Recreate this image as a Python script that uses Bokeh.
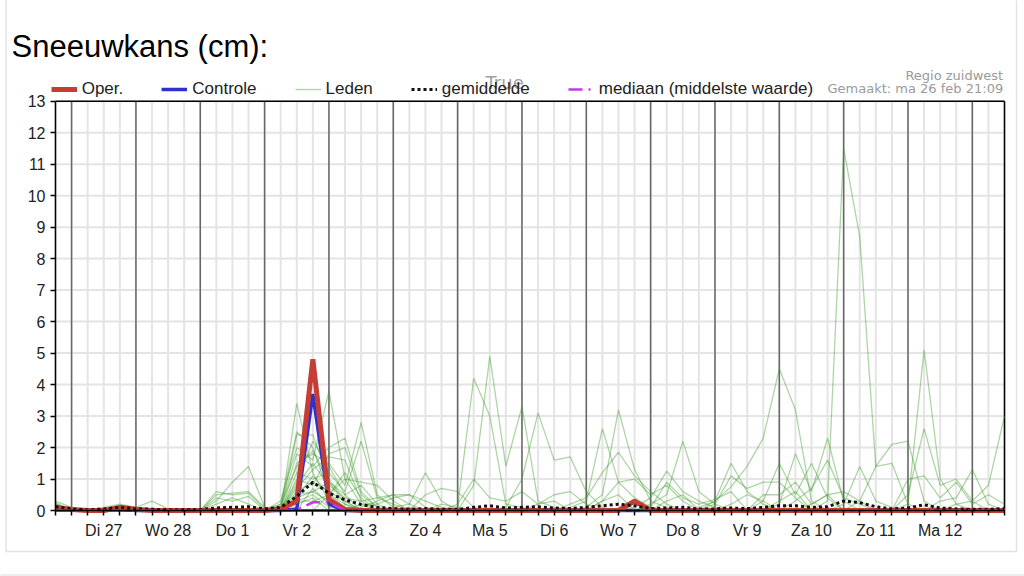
from bokeh.plotting import figure
from bokeh.models import (FixedTicker, Legend, LegendItem, Label,
                          PolyAnnotation, Range1d)
from bokeh.embed import file_html
from bokeh.resources import INLINE

# ---------------- data ----------------
# time axis: hours after Di 27 00:00, 6-hourly steps
HOURS = list(range(-6, 349, 6))
DAY_LABELS = ["Di 27", "Wo 28", "Do 1", "Vr 2", "Za 3", "Zo 4", "Ma 5",
              "Di 6", "Wo 7", "Do 8", "Vr 9", "Za 10", "Zo 11", "Ma 12"]
DAY_NOON_HOURS = [12, 36, 60, 84, 108, 132, 156, 180, 204, 228, 252, 276, 300, 324]
MIDNIGHT_HOURS = [0, 24, 48, 72, 96, 120, 144, 168, 192, 216, 240, 264, 288, 312, 336]
Y_TICKS = [0, 1, 2, 3, 4, 5, 6, 7, 8, 9, 10, 11, 12, 13]

OPER = [0.1, 0.03, 0, 0, 0.1, 0.04, 0, 0, 0, 0,
        0, 0, 0, 0, 0.05, 0.3, 4.8, 0.35, 0.03, 0,
        0, 0, 0, 0, 0, 0, 0, 0, 0, 0,
        0, 0, 0, 0, 0, 0, 0.3, 0, 0, 0,
        0, 0, 0, 0, 0, 0, 0, 0, 0, 0,
        0, 0, 0, 0, 0, 0, 0, 0, 0, 0]

CONTROLE = [0.05, 0.02, 0, 0, 0.05, 0, 0, 0, 0, 0,
            0, 0, 0, 0, 0, 0.05, 3.7, 0.2, 0, 0,
            0, 0, 0, 0, 0, 0, 0, 0, 0, 0,
            0, 0, 0, 0, 0, 0, 0, 0, 0, 0,
            0, 0, 0, 0, 0, 0, 0, 0, 0, 0,
            0, 0, 0, 0, 0, 0, 0, 0, 0, 0]

GEMIDDELDE = [0.12, 0.05, 0.02, 0.05, 0.1, 0.05, 0.04, 0.02, 0.02, 0.03,
              0.08, 0.1, 0.12, 0.05, 0.1, 0.45, 0.9, 0.55, 0.34, 0.19,
              0.1, 0.06, 0.04, 0.06, 0.04, 0.03, 0.1, 0.15, 0.08, 0.1,
              0.12, 0.08, 0.06, 0.1, 0.15, 0.2, 0.15, 0.06, 0.08, 0.1,
              0.05, 0.05, 0.08, 0.06, 0.1, 0.15, 0.15, 0.1, 0.12, 0.3,
              0.25, 0.12, 0.05, 0.08, 0.18, 0.08, 0.05, 0.04, 0.04, 0.06]

MEDIAAN = [0, 0, 0, 0, 0, 0, 0, 0, 0, 0,
           0, 0, 0, 0, 0, 0.02, 0.26, 0.26, 0, 0,
           0, 0, 0, 0, 0, 0, 0, 0, 0, 0,
           0, 0, 0, 0, 0, 0, 0, 0, 0, 0,
           0, 0, 0, 0, 0, 0, 0, 0, 0, 0,
           0, 0, 0, 0, 0, 0, 0, 0, 0, 0]

# ensemble members: {time-step index: value}, all other steps are 0
LEDEN = [
    {0: 0.3, 1: 0.1, 4: 0.15, 15: 3.4, 16: 1.2, 17: 0.3, 18: 0.1},
    {0: 0.2, 4: 0.12, 14: 0.2, 15: 2.5, 16: 2.0, 17: 0.5, 18: 0.1, 22: 0.1},
    {15: 2.4, 16: 2.4, 17: 1.0, 18: 0.3, 30: 0.2, 31: 0.3},
    {14: 0.3, 15: 2.0, 16: 1.6, 17: 3.8, 18: 1.0, 19: 0.2},
    {14: 0.1, 15: 1.8, 16: 1.4, 17: 2.0, 18: 2.3, 19: 0.6, 20: 0.1},
    {15: 1.5, 16: 1.8, 17: 1.5, 18: 0.8, 19: 2.8, 20: 0.5, 21: 0.1, 45: 0.3, 46: 0.6},
    {15: 1.2, 16: 1.0, 17: 1.2, 18: 0.6, 19: 2.2, 20: 0.4, 21: 0.2},
    {15: 1.0, 16: 0.8, 17: 1.8, 18: 2.0, 19: 0.5, 20: 0.1, 34: 0.3, 35: 0.5},
    {15: 0.8, 16: 1.5, 17: 0.8, 18: 0.4, 19: 0.3, 20: 0.4, 21: 0.5, 22: 0.5, 23: 0.1},
    {15: 0.6, 16: 0.9, 17: 0.6, 18: 0.3, 21: 0.1, 22: 0.2, 23: 1.2, 24: 0.3},
    {10: 0.3, 11: 0.9, 12: 1.4, 13: 0.1, 15: 0.5, 16: 0.6, 17: 0.3, 38: 0.3, 39: 0.5},
    {10: 0.6, 11: 0.5, 12: 0.55, 13: 0.05, 15: 0.4, 16: 1.1, 17: 0.5, 18: 0.2,
     23: 0.5, 24: 0.7, 25: 0.6, 26: 0.1},
    {10: 0.5, 11: 0.55, 12: 0.6, 13: 0.1, 16: 0.7, 17: 0.2, 42: 0.2, 43: 0.5, 44: 0.3},
    {10: 0.4, 11: 0.3, 12: 0.45, 14: 0.1, 15: 0.3, 16: 0.5, 17: 0.1, 47: 0.2, 48: 0.5},
    {10: 0.2, 11: 0.4, 12: 0.2, 15: 0.2, 16: 0.4, 19: 0.1, 20: 0.3, 21: 0.5, 22: 0.2},
    {25: 0.1, 26: 4.2, 27: 3.0, 28: 0.2, 29: 0.1},
    {26: 0.8, 27: 4.9, 28: 1.4, 29: 3.3, 30: 0.3, 31: 0.1},
    {28: 0.1, 29: 1.0, 30: 3.1, 31: 1.6, 32: 1.7, 33: 0.6, 34: 0.1},
    {25: 0.2, 26: 1.0, 27: 0.4, 28: 0.3, 29: 0.6, 30: 0.2, 31: 0.5, 32: 0.6, 33: 0.2},
    {32: 0.1, 33: 0.3, 34: 2.6, 35: 0.9, 36: 0.4, 37: 0.1},
    {33: 0.1, 34: 0.5, 35: 3.2, 36: 1.3, 37: 0.3, 38: 0.1},
    {32: 0.2, 33: 0.4, 34: 1.2, 35: 1.85, 36: 1.1, 37: 0.6, 38: 0.2},
    {34: 0.3, 35: 0.9, 36: 1.0, 37: 0.5, 38: 0.8, 39: 0.3},
    {37: 0.2, 38: 0.5, 39: 2.2, 40: 0.6, 41: 0.2},
    {36: 0.1, 37: 0.4, 38: 1.25, 39: 0.6, 40: 0.3, 41: 0.1},
    {37: 0.1, 38: 0.9, 39: 0.4, 40: 0.2, 41: 0.35, 42: 0.6},
    {41: 0.3, 42: 1.5, 43: 0.6, 44: 0.2},
    {41: 0.2, 42: 1.1, 43: 0.7, 44: 0.9, 45: 0.9, 46: 0.4},
    {40: 0.1, 41: 0.3, 42: 0.75, 43: 1.4, 44: 2.3, 45: 4.5, 46: 3.2, 47: 0.3},
    {45: 0.2, 46: 1.8, 47: 0.6, 48: 2.3, 49: 0.3},
    {44: 0.3, 45: 1.5, 46: 0.5, 47: 1.5, 48: 0.4},
    {46: 0.3, 47: 0.7, 48: 1.6, 49: 0.4, 50: 0.2},
    {44: 0.5, 45: 0.5, 46: 0.9, 47: 0.2, 48: 0.5, 49: 0.6, 50: 0.3},
    {48: 0.3, 49: 11.5, 50: 8.7, 51: 1.4, 52: 1.5, 53: 0.2},
    {49: 0.2, 50: 1.4, 51: 0.3, 52: 0.1},
    {50: 0.3, 51: 1.4, 52: 2.1, 53: 2.2, 54: 0.3},
    {53: 0.2, 54: 5.1, 55: 1.0, 56: 0.2},
    {53: 0.5, 54: 2.6, 55: 0.8, 56: 1.0, 57: 0.3},
    {55: 0.3, 56: 0.4, 57: 1.3, 58: 0.2},
    {56: 0.2, 57: 0.3, 58: 0.8, 59: 3.0},
    {53: 1.0, 54: 1.1, 55: 0.4, 56: 0.9, 57: 0.2, 58: 0.5, 59: 0.2},
    {0: 0.25, 3: 0.1, 4: 0.2, 5: 0.1, 6: 0.3, 7: 0.05},
    {0: 0.2, 4: 0.15, 5: 0.05, 24: 0.2, 25: 0.1},
    {19: 0.2, 20: 0.2, 21: 0.4, 22: 0.5, 23: 0.3, 24: 0.1},
    {17: 0.5, 18: 1.0, 19: 0.9, 20: 0.8, 21: 0.3},
    {15: 0.9, 16: 2.2, 17: 1.4, 18: 0.5},
    {14: 0.2, 15: 1.4, 16: 1.9, 17: 0.9, 18: 0.2},
    {15: 0.7, 16: 1.3, 17: 1.7, 18: 1.6, 19: 0.3},
    {15: 0.4, 16: 0.6, 17: 0.9, 18: 0.5, 19: 0.8, 20: 0.2},
    {15: 0.3, 16: 0.3, 17: 0.5, 18: 1.2, 19: 0.4},
]

# ---------------- layout (pixels) ----------------
FONT = "Liberation Sans"
W, H = 1024, 576
PX_LEFT, PX_RIGHT = 55.0, 1004.0      # plot area, x
PX_TOP, PX_ZERO = 100.7, 510.0        # plot area, y (top and y=0 line)

x0, x1 = HOURS[0], HOURS[-1]
y0, y1 = Y_TICKS[0], Y_TICKS[-1]
kx = (PX_RIGHT - PX_LEFT) / (x1 - x0)
ky = (PX_ZERO - PX_TOP) / (y1 - y0)

p = figure(width=W, height=H, output_backend="svg", toolbar_location=None,
           x_range=Range1d(x0 - PX_LEFT / kx, x1 + (W - PX_RIGHT) / kx),
           y_range=Range1d(y0 - (H - PX_ZERO) / ky, y1 + PX_TOP / ky),
           min_border=0, background_fill_color="white",
           border_fill_color="white")
p.title.visible = False
p.outline_line_color = None
p.xgrid.visible = False
p.ygrid.visible = False

# grid lines of the plot area
p.segment(x0=HOURS, y0=y0, x1=HOURS, y1=y1, line_color="#e4e4e4", line_width=2)
p.segment(x0=x0, y0=Y_TICKS, x1=x1, y1=Y_TICKS, line_color="#e4e4e4", line_width=2)
p.segment(x0=MIDNIGHT_HOURS, y0=y0, x1=MIDNIGHT_HOURS, y1=y1,
          line_color="#666666", line_width=1.5)
# top / right border of the plot area
p.segment(x0=[x0, x1], y0=[y1, y0], x1=[x1, x1], y1=[y1, y1],
          line_color="black", line_width=1.5)

# axes drawn at the plot-area edges
p.xaxis.fixed_location = y0
p.yaxis.fixed_location = x0
p.xaxis.bounds = (x0, x1)
p.yaxis.bounds = (y0, y1)
p.xaxis.ticker = FixedTicker(ticks=HOURS)
overrides = {h: "" for h in HOURS}
for h, lab in zip(DAY_NOON_HOURS, DAY_LABELS):
    overrides[h] = lab
p.xaxis.major_label_overrides = overrides
p.yaxis.ticker = FixedTicker(ticks=Y_TICKS)
for ax in (p.xaxis[0], p.yaxis[0]):
    ax.axis_line_color = "black"
    ax.axis_line_width = 1.5
    ax.major_tick_line_color = "black"
    ax.major_tick_line_width = 1.5
    ax.major_tick_out = 5
    ax.major_tick_in = 0
    ax.minor_tick_line_color = None
    ax.major_label_text_font = FONT
    ax.major_label_text_font_size = "16px"
    ax.major_label_text_color = "#222222"
p.xaxis.major_label_standoff = 6
p.yaxis.major_label_standoff = 5

# series
def full(sparse):
    return [sparse.get(i, 0.0) for i in range(len(HOURS))]

r_leden = p.multi_line(xs=[HOURS] * len(LEDEN), ys=[full(m) for m in LEDEN],
                       line_color="#3c9a28", line_alpha=0.42, line_width=1.3)
r_ctrl = p.line(HOURS, CONTROLE, line_color="#3030cc", line_width=3.5)
r_oper = p.line(HOURS, OPER, line_color="#c63d36", line_width=5)
r_mean = p.line(HOURS, GEMIDDELDE, line_color="#111111", line_width=3,
                line_dash="3 3")
r_med = p.line(HOURS, MEDIAAN, line_color="#cc33ee", line_width=2.5,
               line_dash="14 6 2 6")

# legend (screen coords: from bottom-left of the canvas, y upwards)
legend = Legend(items=[
    LegendItem(label="Oper.", renderers=[r_oper]),
    LegendItem(label="Controle", renderers=[r_ctrl]),
    LegendItem(label="Leden", renderers=[r_leden]),
    LegendItem(label="gemiddelde", renderers=[r_mean]),
    LegendItem(label="mediaan (middelste waarde)", renderers=[r_med]),
], location=(50.7, 477.0),
    orientation="horizontal", spacing=38, glyph_width=26, glyph_height=16,
    label_standoff=5, padding=0, margin=0, label_height=16,
    border_line_alpha=0, background_fill_alpha=0,
    label_text_font=FONT, label_text_font_size="17px",
    label_text_color="#222222")
p.add_layout(legend)


def lab(text, x, baseline, size_px, color, font=FONT, align="left"):
    # the svg renderer draws "alphabetic" texts ~0.34 em low; compensate
    p.add_layout(Label(x=x, y=H - baseline + 0.34 * size_px,
                       x_units="screen", y_units="screen",
                       text=text, text_font=font,
                       text_font_size=f"{size_px}px",
                       text_color=color, text_align=align,
                       text_baseline="alphabetic"))

lab("Sneeuwkans (cm):", 11.0, 57.0, 31, "black")
lab("Regio zuidwest", 1002.7, 79.0, 13, "#9a9a9a", font="DejaVu Sans",
    align="right")
lab("Gemaakt: ma 26 feb 21:09", 1002.7, 92.3, 13, "#9a9a9a",
    font="DejaVu Sans", align="right")
lab("True", 485.0, 88.0, 18, "#a0a0a0", font="DejaVu Sans")

# outer light-grey box and the line of the next panel
p.add_layout(PolyAnnotation(
    xs=[5.5, 1016.0, 1016.0, 5.5], ys=[H - 551, H - 551, H + 20, H + 20],
    xs_units="screen", ys_units="screen",
    fill_alpha=0, line_color="#a0a0a0", line_width=1.5))
p.add_layout(PolyAnnotation(
    xs=[-10, W + 10, W + 10, -10], ys=[H - 574.5, H - 574.5, -10, -10],
    xs_units="screen", ys_units="screen",
    fill_alpha=0, line_color="#a8b0b8", line_width=1.5))

open("out.html", "w").write(file_html(p, INLINE))
